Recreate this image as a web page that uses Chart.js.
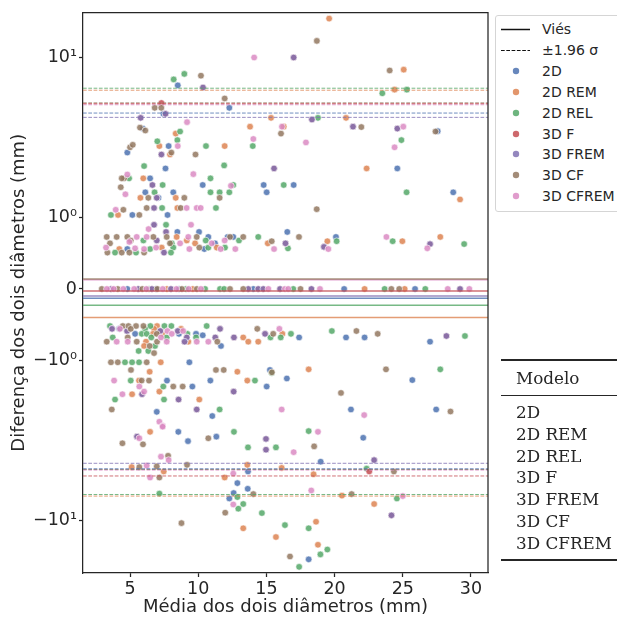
<!DOCTYPE html>
<html>
<head>
<meta charset="utf-8">
<script src="https://cdn.jsdelivr.net/npm/chart.js@4.4.1/dist/chart.umd.min.js"></script>
<style>
  html, body { margin: 0; padding: 0; background: #fff; }
  #wrap { position: relative; width: 617px; height: 619px; overflow: hidden; font-family: "DejaVu Sans", sans-serif; color: #262626; }
  #chart { position: absolute; left: 0; top: 0; }
  #legend { position: absolute; left: 495px; top: 15px; width: 140px; height: 195px; border: 1px solid #d5d5d5; border-radius: 3px; background: #fff; }
  .row { position: absolute; left: 0; height: 20px; width: 140px; font-size: 14px; line-height: 20px; }
  .row span { position: absolute; left: 46px; top: 0; white-space: nowrap; }
  .row svg { position: absolute; left: 0; top: 0; }
  #table { position: absolute; left: 501px; top: 0; width: 116px; height: 619px; font-family: "DejaVu Serif", serif; font-size: 16.8px; }
  .rule { position: absolute; left: 0; width: 116px; background: #262626; }
  .cell { position: absolute; left: 15px; white-space: nowrap; line-height: 20px; }
</style>
</head>
<body>
<div id="wrap">
  <canvas id="chart" width="617" height="619"></canvas>
  <div id="legend"></div>
  <div id="table"></div>
</div>
<script>
// modelos e cores
const MODELS = ['2D', '2D REM', '2D REL', '3D F', '3D FREM', '3D CF', '3D CFREM'];
const PALETTE = ['#4c72b0', '#dd8452', '#55a868', '#c44e52', '#8172b3', '#937860', '#da8bc3'];

// viés e limites de concordância (±1.96 σ)
const BIAS = [-0.13, -0.40, -0.23, -0.03, -0.10, 0.14, 0.13];
const LOA_UPPER = [4.5, 6.25, 6.43, 5.15, 4.23, 5.21, 5.07];
const LOA_LOWER = [-4.76, -7.05, -6.89, -5.28, -4.4, -4.81, -4.85];

// eixos
const X_MIN = 1.55, X_MAX = 31.25;
const Y_MIN = -21.3, Y_MAX = 19.1;
const X_TICKS = [5, 10, 15, 20, 25, 30];
const Y_TICKS = [-10, -1, 0, 1, 10];
const Y_TICK_TEXT = ['\u221210\u00b9', '\u221210\u2070', '0', '10\u2070', '10\u00b9'];

// pontos [média, diferença]
const PTS_2D = [
  [8.5, 6.7], [12.28, 4.85], [7.45, 4.45], [5.93, 3.6], [7.83, 2.8], [4.8, 2.55], [7.6, 2.03], [6.47, 1.76],
  [6.12, 1.44], [8.17, 1.44], [10.33, 1.6], [14.8, 1.6], [15.02, 1.44], [7.08, 1.33], [5.17, 1.04], [7.75, 1.04],
  [27.56, 3.47], [24.6, 2.03], [17.0, 1.6], [28.7, 1.44], [16.53, 0.8], [20.1, 0.73],
  [8.47, 0.8], [10.06, 0.8], [10.74, 0.73], [12.16, 0.73], [12.57, 0.73], [4.8, 0.56], [11.23, 0.64], [10.45, 0.56],
  [4.8, 0], [6.9, 0], [8.6, 0], [14.04, 0], [20.7, 0], [25.9, 0],
  [4.21, -0.56], [5.37, -0.63], [8.59, -0.63], [9.84, -0.63], [10.33, -0.65], [11.67, -0.8], [9.35, -1.03],
  [15.26, -1.15], [7.71, -1.34], [10.89, -1.34], [9.57, -1.46], [15.02, -1.46], [6.96, -2.1], [11.03, -2.23],
  [17.4, -0.68], [20.84, -0.68], [22.2, -0.68], [27.0, -0.74], [16.5, -1.3], [25.7, -1.33], [21.2, -2.03],
  [27.45, -2.03], [8.54, -2.8], [9.25, -3.2], [11.33, -3.0], [13.65, -4.95], [12.87, -5.85], [13.63, -6.35],
  [12.6, -6.75], [12.28, -7.3], [22.1, -3.05], [18.98, -4.3], [18.1, -17.5]
];
const PTS_2D_REM = [
  [8.35, 3.35], [13.8, 3.7], [15.34, 4.2], [7.15, 2.8], [11.94, 2.8], [7.93, 2.48], [5.97, 1.76], [5.76, 1.33],
  [8.35, 1.33], [8.47, 1.15], [4.12, 1.04], [19.6, 17.5], [25.07, 8.4], [24.4, 6.3], [20.84, 4.2], [16.27, 3.7],
  [22.35, 2.03], [29.2, 1.3], [19.47, 0.67], [24.97, 0.67], [27.75, 0.73],
  [8.42, 0.73], [9.16, 0.68], [9.77, 0.64], [15.1, 0.64], [4.21, 0.56], [7.32, 0.58], [11.36, 0.58],
  [7.7, 0], [9.6, 0], [22.2, 0], [25.14, 0],
  [6.98, -0.52], [6.76, -0.56], [8.74, -0.56], [6.69, -0.63], [7.39, -0.63], [13.3, -0.68], [6.17, -0.74],
  [9.27, -0.74], [13.67, -0.74], [14.4, -0.74], [6.03, -0.8], [7.25, -1.03], [6.44, -1.18], [12.87, -1.18],
  [5.66, -1.34], [13.6, -1.34], [7.15, -1.57], [5.15, -1.63], [10.08, -1.76], [16.17, -0.63], [18.1, -1.14],
  [6.47, -2.8], [5.12, -4.65], [7.47, -4.95], [13.6, -4.5], [11.94, -5.4], [13.3, -11.2], [15.7, -12.7],
  [16.12, -4.7], [18.46, -5.15], [20.54, -7.0], [22.9, -7.9], [18.64, -10.2], [18.78, -14.2]
];
const PTS_2D_REL = [
  [8.98, 7.9], [8.2, 7.3], [8.67, 3.45], [14.0, 2.8], [7.0, 3.0], [8.47, 3.05], [10.57, 2.8], [6.03, 2.1],
  [11.9, 2.12], [4.93, 1.76], [10.9, 1.76], [6.8, 1.44], [7.39, 1.6], [12.57, 1.6], [10.9, 1.44], [11.57, 1.44],
  [12.28, 1.44], [7.35, 1.15], [11.3, 1.15], [3.6, 1.04], [7.64, 0.9], [23.5, 5.98], [25.3, 6.3], [18.78, 4.2],
  [24.9, 3.05], [16.27, 1.6], [25.28, 1.44], [16.58, 0.57], [20.15, 0.67], [24.26, 0.67], [29.5, 0.63],
  [14.4, 0.73], [5.98, 0.68], [10.55, 0.68], [12.99, 0.68], [8.06, 0.64], [6.47, 0.56], [8.17, 0.58],
  [10.74, 0.58], [11.96, 0.58], [3.9, 0.51], [5.44, 0.51], [8.0, 0.51],
  [6.4, 0], [9.1, 0], [10.5, 0], [11.6, 0], [11.9, 0], [16.97, 0], [23.67, 0], [26.65, 0],
  [3.53, -0.52], [6.49, -0.52], [7.52, -0.52], [8.03, -0.52], [10.62, -0.52], [6.1, -0.56], [5.86, -0.63],
  [6.22, -0.63], [9.2, -0.63], [3.73, -0.68], [6.56, -0.68], [7.69, -0.68], [9.84, -0.68], [15.3, -0.68],
  [6.83, -0.8], [5.63, -0.87], [6.34, -0.87], [4.63, -1.03], [5.15, -1.03], [5.66, -1.03], [5.05, -1.34],
  [14.16, -1.34], [7.44, -1.46], [3.9, -1.76], [7.49, -1.76], [11.57, -2.03], [16.05, -0.68], [16.8, -0.63],
  [19.8, -0.59], [29.56, -0.66], [15.39, -1.2], [27.75, -1.14], [18.1, -2.77],
  [12.62, -2.8], [13.65, -3.5], [15.7, -3.5], [7.15, -6.8], [12.87, -7.15], [13.3, -7.9], [12.94, -8.45],
  [14.67, -9.0], [22.35, -4.75], [24.57, -7.3], [16.36, -10.7], [18.1, -11.2], [19.47, -15.2], [18.96, -16.3],
  [17.4, -19.5]
];
const PTS_3D_F = [
  [7.3, 5.2], [10.35, 6.5], [7.6, 4.45], [5.78, 4.2], [7.3, 2.48], [15.56, 2.03], [6.64, 1.6], [6.96, 1.33],
  [6.76, 1.15], [6.76, 0.9], [7.64, 0.8], [17.0, 10.0], [18.34, 4.1], [21.35, 3.7], [24.6, 3.6], [16.4, 0.64],
  [19.22, 0.59], [27.0, 0.63], [6.96, 0.68], [7.49, 0.51],
  [3.6, 0], [5.6, 0], [6.6, 0], [8.0, 0], [13.67, 0], [14.4, 0], [14.77, 0], [16.0, 0], [18.3, 0], [29.2, 0],
  [3.68, -0.56], [4.78, -0.59], [7.22, -0.59], [8.5, -0.59], [11.6, -0.56], [14.9, -0.63], [9.16, -0.68],
  [11.25, -0.68], [12.62, -0.68], [9.0, -0.74], [5.88, -1.63], [12.6, -1.57], [8.56, -1.76], [9.89, -2.03],
  [28.2, -0.66], [5.51, -3.0], [14.97, -3.1], [14.97, -3.62], [22.9, -4.2], [22.54, -4.95], [24.17, -9.3]
];
const PTS_3D_FREM = [
  [10.35, 6.5], [7.6, 4.45], [5.78, 4.2], [7.3, 2.48], [15.56, 2.03], [6.64, 1.6], [6.96, 1.33], [6.76, 1.15],
  [6.76, 0.9], [7.64, 0.8], [17.0, 10.0], [18.34, 4.1], [21.35, 3.7], [24.6, 3.6], [16.4, 0.64], [19.22, 0.59],
  [27.0, 0.63], [6.96, 0.68], [7.49, 0.51],
  [3.6, 0], [5.6, 0], [6.6, 0], [8.0, 0], [13.67, 0], [14.4, 0], [14.77, 0], [16.0, 0], [18.3, 0], [29.2, 0],
  [3.68, -0.56], [4.78, -0.59], [7.22, -0.59], [8.5, -0.59], [11.6, -0.56], [14.9, -0.63], [9.16, -0.68],
  [11.25, -0.68], [12.62, -0.68], [9.0, -0.74], [5.88, -1.63], [12.6, -1.57], [8.56, -1.76], [9.89, -2.03],
  [28.2, -0.66], [5.51, -3.0], [14.97, -3.1], [14.97, -3.62], [22.9, -4.2], [24.17, -9.3]
];
const PTS_3D_CF = [
  [10.2, 7.7], [11.94, 5.55], [6.81, 4.85], [7.29, 4.85], [5.73, 3.65], [6.12, 3.5], [16.07, 3.35], [5.0, 2.75],
  [5.2, 2.85], [8.03, 2.55], [9.8, 2.48], [4.56, 1.76], [4.39, 1.76], [4.32, 1.55], [6.34, 1.33], [8.98, 1.33],
  [11.57, 1.33], [4.51, 1.12], [6.22, 1.15], [8.71, 1.15], [5.68, 1.04], [18.7, 12.7], [24.04, 8.3],
  [21.96, 3.68], [27.4, 3.45], [18.69, 1.13], [15.39, 0.67], [17.39, 0.73],
  [3.29, 0.73], [4.02, 0.73], [4.8, 0.73], [6.71, 0.73], [7.69, 0.73], [9.89, 0.73], [12.33, 0.73], [13.3, 0.73],
  [3.53, 0.64], [5.05, 0.68], [7.93, 0.64], [10.08, 0.58], [3.34, 0.51], [4.39, 0.51], [4.95, 0.51], [6.03, 0.51],
  [2.93, 0], [4.1, 0], [5.9, 0], [7.0, 0], [8.8, 0], [9.9, 0], [12.33, 0], [13.3, 0], [17.5, 0], [24.16, 0], [24.74, 0],
  [4.47, -0.52], [4.88, -0.52], [5.44, -0.52], [5.98, -0.52], [5.05, -0.56], [14.33, -0.56], [6.96, -0.63],
  [15.5, -0.63], [4.83, -0.68], [3.29, -0.74], [5.49, -0.74], [6.98, -0.74], [11.4, -0.74], [6.44, -0.8],
  [6.76, -0.9], [3.6, -1.03], [4.1, -1.03], [6.22, -1.03], [5.07, -1.15], [11.3, -1.15], [11.87, -1.15],
  [15.4, -1.19], [6.39, -1.34], [5.85, -1.34], [8.17, -1.46], [8.86, -1.46], [3.66, -2.03], [21.6, -0.59],
  [23.16, -0.63], [23.77, -1.14], [20.47, -1.6], [28.5, -2.09],
  [4.44, -3.3], [5.95, -3.35], [10.74, -3.07], [7.79, -3.95], [5.68, -4.65], [6.96, -4.6], [9.18, -4.5],
  [7.15, -5.4], [14.04, -6.85], [11.98, -8.95], [8.77, -10.4], [18.5, -3.45], [24.35, -4.95], [21.25, -6.85],
  [16.73, -16.8]
];
const PTS_3D_CFREM = [
  [14.1, 10.0], [9.18, 3.95], [8.5, 2.8], [14.04, 3.1], [9.64, 1.87], [4.8, 1.86], [4.66, 1.4], [12.4, 1.58],
  [3.95, 1.12], [9.15, 1.15], [9.89, 1.15], [10.18, 1.15], [6.36, 0.84], [9.47, 0.9], [16.14, 3.7], [25.04, 3.7],
  [17.9, 2.95], [24.4, 2.75], [19.54, 0.56], [23.8, 0.73], [26.8, 0.57],
  [5.49, 0.73], [6.22, 0.73], [9.27, 0.73], [4.95, 0.66], [10.99, 0.64], [11.94, 0.68], [3.24, 0.58], [5.37, 0.57],
  [6.03, 0.56], [6.91, 0.58], [8.67, 0.64], [9.35, 0.56], [11.65, 0.56], [12.72, 0.56], [15.56, 0.56],
  [3.3, 0], [3.8, 0], [4.5, 0], [5.3, 0], [6.2, 0], [7.4, 0], [8.4, 0], [9.3, 0], [10.2, 0], [15.14, 0],
  [16.36, 0], [16.6, 0], [18.93, 0], [28.3, 0], [29.88, 0],
  [4.26, -0.56], [7.74, -0.59], [8.89, -0.59], [15.95, -0.56], [8.06, -0.63], [7.27, -0.68], [4.02, -0.74],
  [4.83, -0.74], [7.69, -0.74], [9.89, -0.74], [10.74, -0.74], [3.83, -1.34], [5.68, -1.46], [6.03, -1.57],
  [4.44, -1.63], [7.15, -2.42], [7.39, -2.57], [16.12, -2.03], [22.17, -2.2], [18.78, -2.8],
  [7.39, -2.6], [5.68, -3.07], [7.27, -4.0], [7.83, -4.2], [6.22, -4.55], [6.47, -5.4], [12.57, -5.1],
  [12.57, -7.95], [17.0, -3.75], [18.29, -6.5], [25.0, -7.05]
];
const SERIES = [PTS_2D, PTS_2D_REM, PTS_2D_REL, PTS_3D_F, PTS_3D_FREM, PTS_3D_CF, PTS_3D_CFREM];

// escala symlog (linthresh = 1)
const LIN = 0.445;
function fwd(v) {
  const a = Math.abs(v);
  const t = a <= 1 ? a * LIN : LIN + Math.log10(a);
  return v < 0 ? -t : t;
}
function inv(t) {
  const a = Math.abs(t);
  const v = a <= LIN ? a / LIN : Math.pow(10, a - LIN);
  return t < 0 ? -v : v;
}

class SymlogScale extends Chart.LinearScale {
  buildTicks() {
    return Y_TICKS.map(v => ({ value: v }));
  }
  getPixelForValue(v) {
    const a = fwd(this.min), b = fwd(this.max);
    return this.getPixelForDecimal((fwd(v) - a) / (b - a));
  }
  getValueForPixel(p) {
    const a = fwd(this.min), b = fwd(this.max);
    return inv(a + this.getDecimalForPixel(p) * (b - a));
  }
}
SymlogScale.id = 'symlog';
SymlogScale.defaults = {};
Chart.register(SymlogScale);

const INK = '#262626';
const FONT = 'DejaVu Sans';

function rgba(hex, a) {
  const n = parseInt(hex.slice(1), 16);
  return `rgba(${n >> 16},${(n >> 8) & 255},${n & 255},${a})`;
}

const datasets = [];
MODELS.forEach((m, i) => {
  datasets.push({
    label: m + ' viés', data: [{ x: X_MIN, y: BIAS[i] }, { x: X_MAX, y: BIAS[i] }],
    showLine: true, pointRadius: 0, borderColor: rgba(PALETTE[i], 0.8), borderWidth: 1.5, order: 0
  });
  [LOA_UPPER[i], LOA_LOWER[i]].forEach(v => datasets.push({
    label: m + ' loa', data: [{ x: X_MIN, y: v }, { x: X_MAX, y: v }],
    showLine: true, pointRadius: 0, borderColor: rgba(PALETTE[i], 0.8), borderWidth: 1, borderDash: [3.7, 1.6], order: 0
  }));
});
SERIES.forEach((pts, i) => {
  datasets.push({
    label: MODELS[i], data: pts.map(p => ({ x: p[0], y: p[1] })),
    pointRadius: 3.3, pointBackgroundColor: rgba(PALETTE[i], 0.85),
    pointBorderColor: '#ffffff', pointBorderWidth: 0.6, order: 10 - i
  });
});

const frame = {
  id: 'frame',
  afterDraw(chart) {
    const { ctx, chartArea: a } = chart;
    ctx.save();
    ctx.strokeStyle = INK;
    ctx.lineWidth = 1.25;
    ctx.beginPath();
    ctx.moveTo(a.left, a.top);
    ctx.lineTo(a.right, a.top);
    ctx.lineTo(a.right, a.bottom);
    ctx.stroke();
    ctx.restore();
  }
};

new Chart(document.getElementById('chart'), {
  type: 'scatter',
  data: { datasets },
  options: {
    responsive: false,
    animation: false,
    devicePixelRatio: 1,
    events: [],
    layout: { padding: { top: 8, right: 129, bottom: 0, left: 0 } },
    plugins: { legend: { display: false }, tooltip: { enabled: false } },
    scales: {
      x: {
        type: 'linear', min: X_MIN, max: X_MAX,
        afterBuildTicks: s => { s.ticks = X_TICKS.map(v => ({ value: v })); },
        afterFit: s => { s.height = 46; },
        grid: { drawOnChartArea: false, drawTicks: true, tickLength: 4, tickWidth: 1.25, tickColor: INK },
        border: { display: true, color: INK, width: 1.25 },
        ticks: { color: INK, font: { family: FONT, size: 17.5 }, padding: 2, maxRotation: 0 },
        title: { display: true, text: 'Média dos dois diâmetros (mm)', color: INK, font: { family: FONT, size: 18 }, padding: { top: 0, bottom: 1 } }
      },
      y: {
        type: 'symlog', min: Y_MIN, max: Y_MAX,
        afterFit: s => { s.width = 83; },
        grid: { drawOnChartArea: false, drawTicks: true, tickLength: 4, tickWidth: 1.25, tickColor: INK },
        border: { display: true, color: INK, width: 1.25 },
        ticks: { color: INK, font: { family: FONT, size: 17.5 }, padding: 2, callback: (v, i) => Y_TICK_TEXT[i] },
        title: { display: true, text: 'Diferença dos dois diâmetros (mm)', color: INK, font: { family: FONT, size: 18 }, padding: { top: 9, bottom: 0 } }
      }
    }
  },
  plugins: [frame]
});

// legenda
const legend = document.getElementById('legend');
const entries = [['line', 'Viés'], ['dash', '\u00b11.96 \u03c3']].concat(MODELS.map((m, i) => ['dot', m, PALETTE[i]]));
entries.forEach((e, k) => {
  const row = document.createElement('div');
  row.className = 'row';
  row.style.top = (3 + k * 20.9) + 'px';
  let g = '';
  if (e[0] === 'line') g = `<line x1="5" y1="10.5" x2="34" y2="10.5" stroke="#111" stroke-width="1.5"/>`;
  if (e[0] === 'dash') g = `<line x1="5" y1="10.5" x2="34" y2="10.5" stroke="#111" stroke-width="1.2" stroke-dasharray="3.7 1.6"/>`;
  if (e[0] === 'dot') g = `<circle cx="20" cy="10" r="3.2" fill="${rgba(e[2], 0.85)}"/>`;
  row.innerHTML = `<svg width="40" height="20">${g}</svg><span>${e[1]}</span>`;
  legend.appendChild(row);
});

// tabela
const table = document.getElementById('table');
function rule(y, h) {
  const d = document.createElement('div');
  d.className = 'rule';
  d.style.top = y + 'px';
  d.style.height = h + 'px';
  table.appendChild(d);
}
function cell(text, cy) {
  const d = document.createElement('div');
  d.className = 'cell';
  d.style.top = (cy - 10) + 'px';
  d.textContent = text;
  table.appendChild(d);
}
rule(359, 2);
cell('Modelo', 378);
rule(394.5, 1);
MODELS.forEach((m, i) => cell(m, 412 + i * 21.8));
rule(559, 2);
</script>
</body>
</html>
